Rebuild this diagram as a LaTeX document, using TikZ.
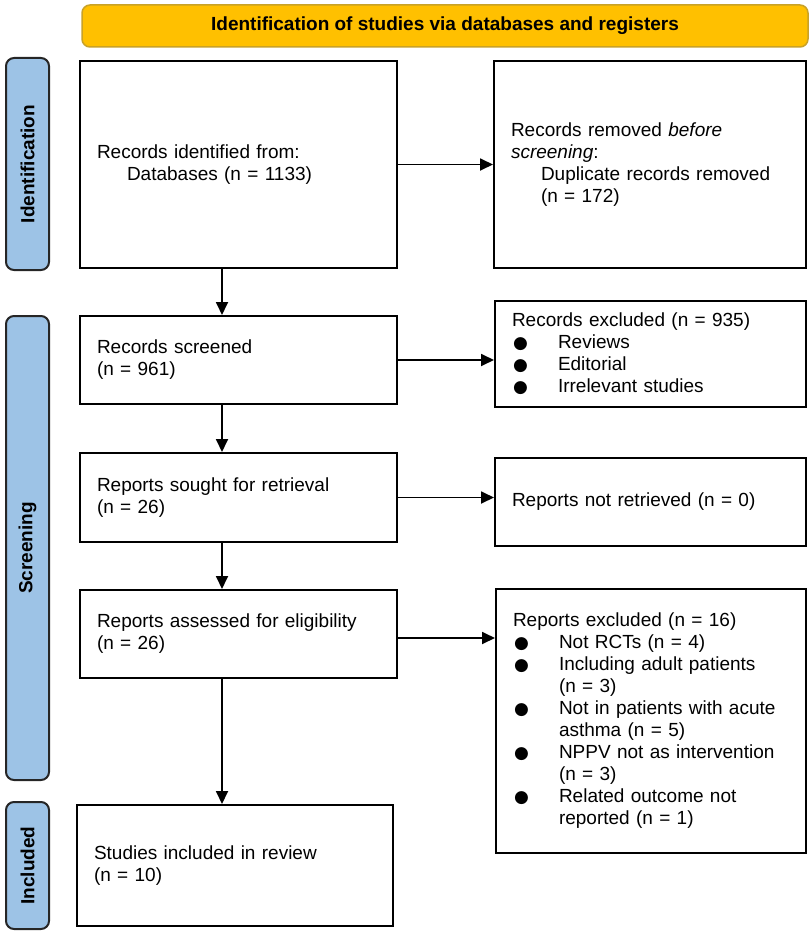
\documentclass[tikz,border=0pt]{standalone}
\usepackage{fontspec}
\setmainfont{Liberation Sans}
\newfontfamily\dotfont{DejaVu Sans}
\usetikzlibrary{arrows.meta}
\definecolor{sideblue}{HTML}{9DC3E6}
\definecolor{bannergold}{HTML}{FFC000}
\definecolor{bannerline}{HTML}{C9A227}
\newcommand{\bul}{\makebox[46pt][l]{\hspace*{1pt}{\dotfont\fontsize{17}{17}\selectfont ●}}}
\newcommand{\hang}{\hspace*{46pt}}
\begin{document}
\begin{tikzpicture}[x=1pt,y=-1pt,
    box/.style={draw,line width=2pt,align=left,inner xsep=17pt,inner ysep=0pt,
        font=\fontsize{19}{22}\selectfont},
    side/.style={draw=black!85,line width=2pt,fill=sideblue,rounded corners=8pt,
        rotate=90,minimum height=43pt,inner sep=0pt,font=\bfseries\fontsize{19}{22}\selectfont},
    banner/.style={draw=bannerline,line width=1.5pt,fill=bannergold,rounded corners=8pt,
        minimum width=726pt,minimum height=42pt,font=\bfseries\fontsize{19}{22}\selectfont},
    arr/.style={-{Triangle[length=13pt,width=12pt]},line width=1.8pt}]
    \useasboundingbox (0,0) rectangle (810,934);

    % header and phase labels
    \node[banner] (head) at (445,26) {Identification of studies via databases and registers};
    \node[side,minimum width=212pt] (sideI) at (27.5,164) {Identification};
    \node[side,minimum width=464pt] (sideS) at (27.5,548) {Screening};
    \node[side,minimum width=127pt] (sideN) at (27.5,865.5) {Included};

    % main column
    \node[box,text width=283pt,minimum height=207pt] (ident) at (238.5,164.5)
        {Records identified from:\\ \hspace*{30pt}Databases (n = 1133)};
    \node[box,text width=283pt,minimum height=88pt] (screen) at (238.5,360)
        {Records screened\\(n = 961)};
    \node[box,text width=283pt,minimum height=89pt] (sought) at (238.5,497.5)
        {Reports sought for retrieval\\(n = 26)};
    \node[box,text width=283pt,minimum height=88pt] (assess) at (238.5,634)
        {Reports assessed for eligibility\\(n = 26)};
    \node[box,text width=282pt,minimum height=121pt] (incl) at (235,865.5)
        {Studies included in review\\(n = 10)};

    % side column
    \node[box,text width=278pt,minimum height=207pt] (removed) at (650,164.5)
        {Records removed \textit{before}\\ \textit{screening}:\\
         \hspace*{30pt}Duplicate records removed\\ \hspace*{30pt}(n = 172)};
    \node[box,text width=277pt,minimum height=106pt] (excl) at (650.5,354)
        {Records excluded (n = 935)\\ \bul Reviews\\ \bul Editorial\\ \bul Irrelevant studies};
    \node[box,text width=277pt,minimum height=88pt] (notret) at (650.5,502)
        {Reports not retrieved (n = 0)};
    \node[box,text width=276pt,minimum height=264pt] (repexcl) at (651,721)
        {Reports excluded (n = 16)\\
         \bul Not RCTs (n = 4)\\
         \bul Including adult patients\\ \hang(n = 3)\\
         \bul Not in patients with acute\\ \hang asthma (n = 5)\\
         \bul NPPV not as intervention\\ \hang(n = 3)\\
         \bul Related outcome not\\ \hang reported (n = 1)};

    % arrows
    \draw[arr] ([xshift=-16.5pt]ident.south) -- ([xshift=-16.5pt]ident.south |- screen.north);
    \draw[arr] ([xshift=-16.5pt]screen.south) -- ([xshift=-16.5pt]screen.south |- sought.north);
    \draw[arr] ([xshift=-16.5pt]sought.south) -- ([xshift=-16.5pt]sought.south |- assess.north);
    \draw[arr] ([xshift=-16.5pt]assess.south) -- ([xshift=-16.5pt]assess.south |- incl.north);

    \draw[arr] (ident.east) -- (removed.west);
    \draw[arr] (screen.east) -- (screen.east -| excl.west);
    \draw[arr] (sought.east) -- (sought.east -| notret.west);
    \draw[arr] ([yshift=-4pt]assess.east) -- ([yshift=-4pt]assess.east -| repexcl.west);
\end{tikzpicture}
\end{document}
